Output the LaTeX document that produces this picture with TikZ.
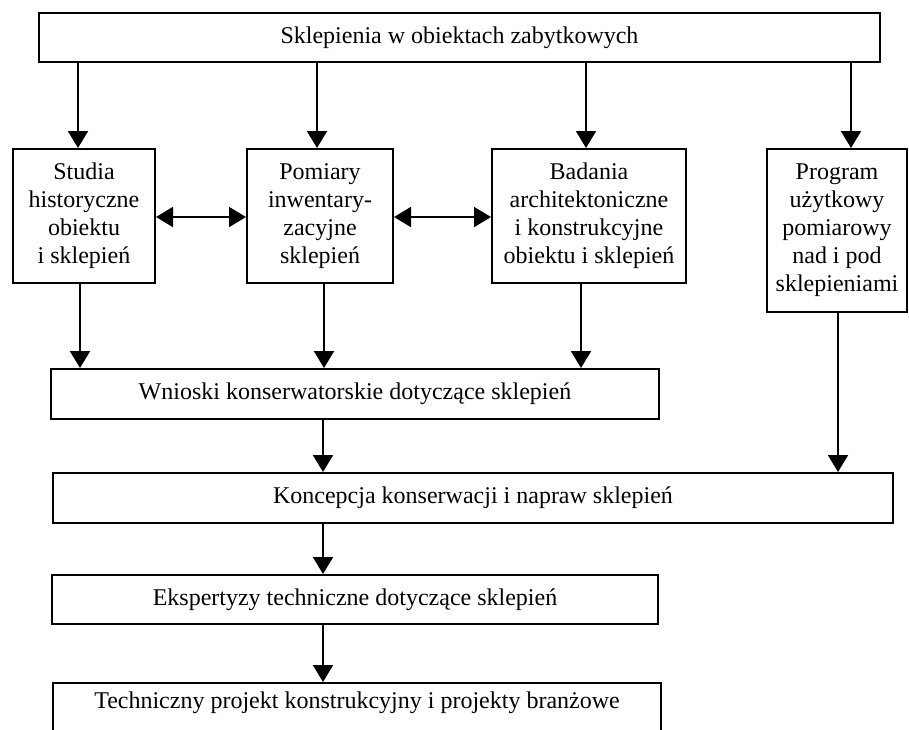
\documentclass[tikz,border=0pt]{standalone}
\usepackage{fontspec}
\setmainfont{Liberation Serif}
\usetikzlibrary{arrows.meta}
\begin{document}
\begin{tikzpicture}[x=1pt,y=-1pt,
  box/.style={draw, line width=2pt, align=center, inner sep=0pt, font=\fontsize{24}{28}\selectfont},
  arr/.style={line width=2pt, -{Triangle[length=17pt,width=20pt]}},
  darr/.style={line width=2pt, {Triangle[length=17pt,width=20pt]}-{Triangle[length=17pt,width=20pt]}}]
\useasboundingbox (0,0) rectangle (909,729);
\clip (0,0) rectangle (909,729);
\fill[white] (0,0) rectangle (909,729);
\node[box, minimum width=841pt, minimum height=49pt] (top) at (459.5,37.5) {Sklepienia w obiektach zabytkowych};
\node[box, minimum width=142pt, minimum height=134pt] (b1) at (84,216) {Studia\\historyczne\\obiektu\\i sklepień};
\node[box, minimum width=146pt, minimum height=134pt] (b2) at (320,216) {Pomiary\\inwentary-\\zacyjne\\sklepień};
\node[box, minimum width=194pt, minimum height=134pt] (b3) at (589,216) {Badania\\architektoniczne\\i konstrukcyjne\\obiektu i sklepień};
\node[box, minimum width=140pt, minimum height=163pt] (b4) at (837,230.5) {Program\\użytkowy\\pomiarowy\\nad i pod\\sklepieniami};
\node[box, minimum width=608pt, minimum height=50pt] (w) at (355,394) {Wnioski konserwatorskie dotyczące sklepień};
\node[box, minimum width=840pt, minimum height=50pt] (k) at (473,498) {Koncepcja konserwacji i napraw sklepień};
\node[box, minimum width=606pt, minimum height=49pt] (e) at (355,599.5) {Ekspertyzy techniczne dotyczące sklepień};
\node[box, minimum width=608pt, text height=25pt, text depth=27pt] (t) at (357,709) {Techniczny projekt konstrukcyjny i projekty branżowe};
% x positions of connectors
\coordinate (x1) at (78,0);
\coordinate (x2) at (317,0);
\coordinate (x3) at (586,0);
\coordinate (x4) at (851,0);
\coordinate (y1) at (80,0);
\coordinate (y2) at (324,0);
\coordinate (y3) at (581,0);
\coordinate (y4) at (838,0);
\coordinate (ym) at (323,0);
\coordinate (hy) at (0,217);
\draw[arr] (top.south -| x1) -- (b1.north -| x1);
\draw[arr] (top.south -| x2) -- (b2.north -| x2);
\draw[arr] (top.south -| x3) -- (b3.north -| x3);
\draw[arr] (top.south -| x4) -- (b4.north -| x4);
\draw[darr] (b1.east |- hy) -- (b2.west |- hy);
\draw[darr] (b2.east |- hy) -- (b3.west |- hy);
\draw[arr] (b1.south -| y1) -- (w.north -| y1);
\draw[arr] (b2.south -| y2) -- (w.north -| y2);
\draw[arr] (b3.south -| y3) -- (w.north -| y3);
\draw[arr] (b4.south -| y4) -- (k.north -| y4);
\draw[arr] (w.south -| ym) -- (k.north -| ym);
\draw[arr] (k.south -| ym) -- (e.north -| ym);
\draw[arr] (e.south -| ym) -- (t.north -| ym);
\end{tikzpicture}
\end{document}
